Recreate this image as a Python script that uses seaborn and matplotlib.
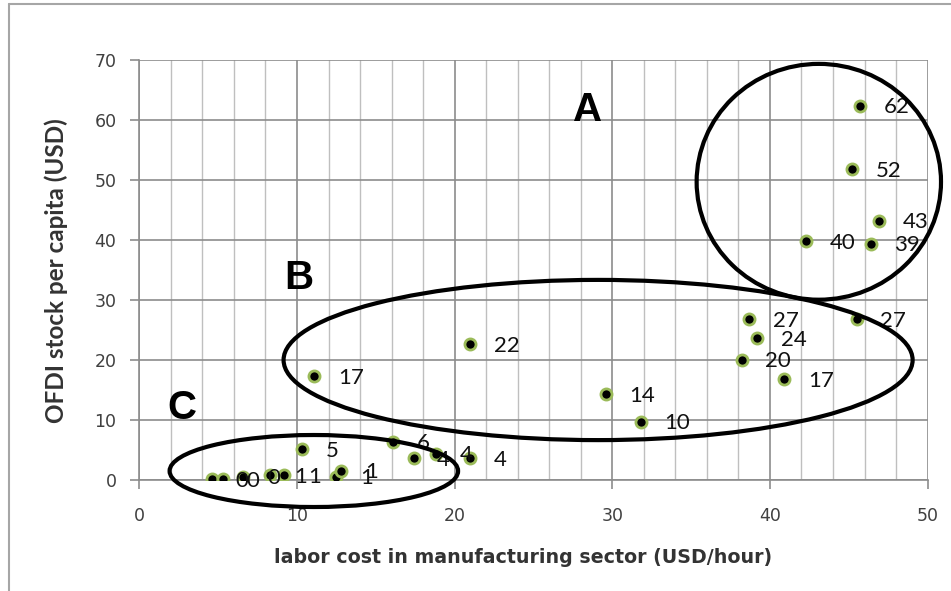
import matplotlib
matplotlib.use("Agg")
import matplotlib.pyplot as plt
from matplotlib.patches import Ellipse
from matplotlib.lines import Line2D
from matplotlib.ticker import MultipleLocator
import pandas as pd
import seaborn as sns

# veri: iscilik maliyeti (USD/saat) ve kisi basi OFDI stoku (USD)
labor_cost = [4.6, 5.3, 6.6, 8.3, 9.2, 10.3, 12.5, 12.8, 16.1, 17.4, 18.8, 21.0,
              11.1, 21.0, 29.6, 31.8, 38.7, 39.2, 38.2, 40.9, 45.5,
              45.7, 45.2, 46.9, 42.3, 46.4]
ofdi_stock = [0.1, 0.1, 0.55, 0.8, 0.8, 5.1, 0.55, 1.55, 6.4, 3.6, 4.4, 3.6,
              17.3, 22.6, 14.3, 9.7, 26.8, 23.6, 20.0, 16.8, 26.8,
              62.4, 51.8, 43.2, 39.8, 39.4]
point_labels = ["0", "0", "0", "1", "1", "5", "1", "1", "6", "4", "4", "4",
                "17", "22", "14", "10", "27", "24", "20", "17", "27",
                "62", "52", "43", "40", "39"]

# gruplar: harf, harf konumu, elips merkezi, genislik, yukseklik (veri birimi)
group_names = ["A", "B", "C"]
group_letter_pos = [(28.45, 61.7), (10.1, 33.7), (2.7, 12.0)]
group_centers = [(43.1, 49.7), (29.1, 20.0), (11.07, 1.5)]
group_widths = [15.5, 39.9, 18.3]
group_heights = [39.3, 26.7, 12.0]

df = pd.DataFrame({"labor": labor_cost, "ofdi": ofdi_stock, "label": point_labels})

sns.set_theme(style="white")
plt.rcParams["font.family"] = ["Lato", "DejaVu Sans"]

fig = plt.figure(figsize=(9.51, 5.91), dpi=100)
ax = fig.add_axes([0.1465, 0.1878, 0.8289, 0.7107])

# izgara cizgileri
ax.set_xlim(0, 50)
ax.set_ylim(0, 70)
ax.xaxis.set_major_locator(MultipleLocator(10))
ax.xaxis.set_minor_locator(MultipleLocator(2))
ax.yaxis.set_major_locator(MultipleLocator(10))
ax.grid(which="minor", axis="x", color="#bfbfbf", linewidth=1.0)
ax.grid(which="major", axis="both", color="#8c8c8c", linewidth=1.2)
ax.set_axisbelow(True)
for s in ["top", "right"]:
    ax.spines[s].set_visible(False)
for s in ["left", "bottom"]:
    ax.spines[s].set_color("#8c8c8c")
    ax.spines[s].set_linewidth(1.2)

ax.tick_params(axis="both", which="major", direction="out", length=6.5, width=1.2,
               color="#8c8c8c", labelsize=12.5, labelcolor="#404040")
ax.tick_params(axis="x", which="major", pad=13, bottom=True)
ax.tick_params(axis="y", which="major", pad=10, left=True)
ax.tick_params(axis="x", which="minor", length=0)
for t in ax.get_xticklabels() + ax.get_yticklabels():
    t.set_family("DejaVu Sans")

sns.scatterplot(data=df, x="labor", y="ofdi", ax=ax, color="black", s=64,
                edgecolor="#9bbb59", linewidth=2.0, zorder=3, legend=False)

for xv, yv, lab in zip(df["labor"], df["ofdi"], df["label"]):
    ax.annotate(lab, (xv, yv), xytext=(17, -1), textcoords="offset points",
                ha="left", va="center", fontsize=16, color="#111111",
                annotation_clip=False)

for name, lp, c, w, h in zip(group_names, group_letter_pos, group_centers,
                             group_widths, group_heights):
    ax.add_patch(Ellipse(c, w, h, fill=False, edgecolor="black", linewidth=3.0,
                         clip_on=False, zorder=4))
    ax.text(lp[0], lp[1], name, ha="center", va="center", fontsize=29,
            fontweight="bold", family="Liberation Sans", color="black")

ax.set_xlabel("labor cost in manufacturing sector (USD/hour)", fontsize=13.7,
              fontweight="bold", color="#333333", family="DejaVu Sans")
ax.set_ylabel("OFDI stock per capita (USD)", fontsize=17.5,
              fontweight="bold", color="#333333")
ax.xaxis.set_label_coords(0.487, -0.1833)
ax.xaxis.label.set_va("center")
ax.yaxis.set_label_coords(-0.1057, 0.498)
ax.yaxis.label.set_va("center")

# dis cerceve
fig.add_artist(Line2D([9 / 951, 9 / 951], [0, 1 - 4 / 591], color="#a6a6a6", linewidth=1.5))
fig.add_artist(Line2D([9 / 951, 1], [1 - 4 / 591, 1 - 4 / 591], color="#a6a6a6", linewidth=1.5))

fig.savefig("out.png", dpi=100)
